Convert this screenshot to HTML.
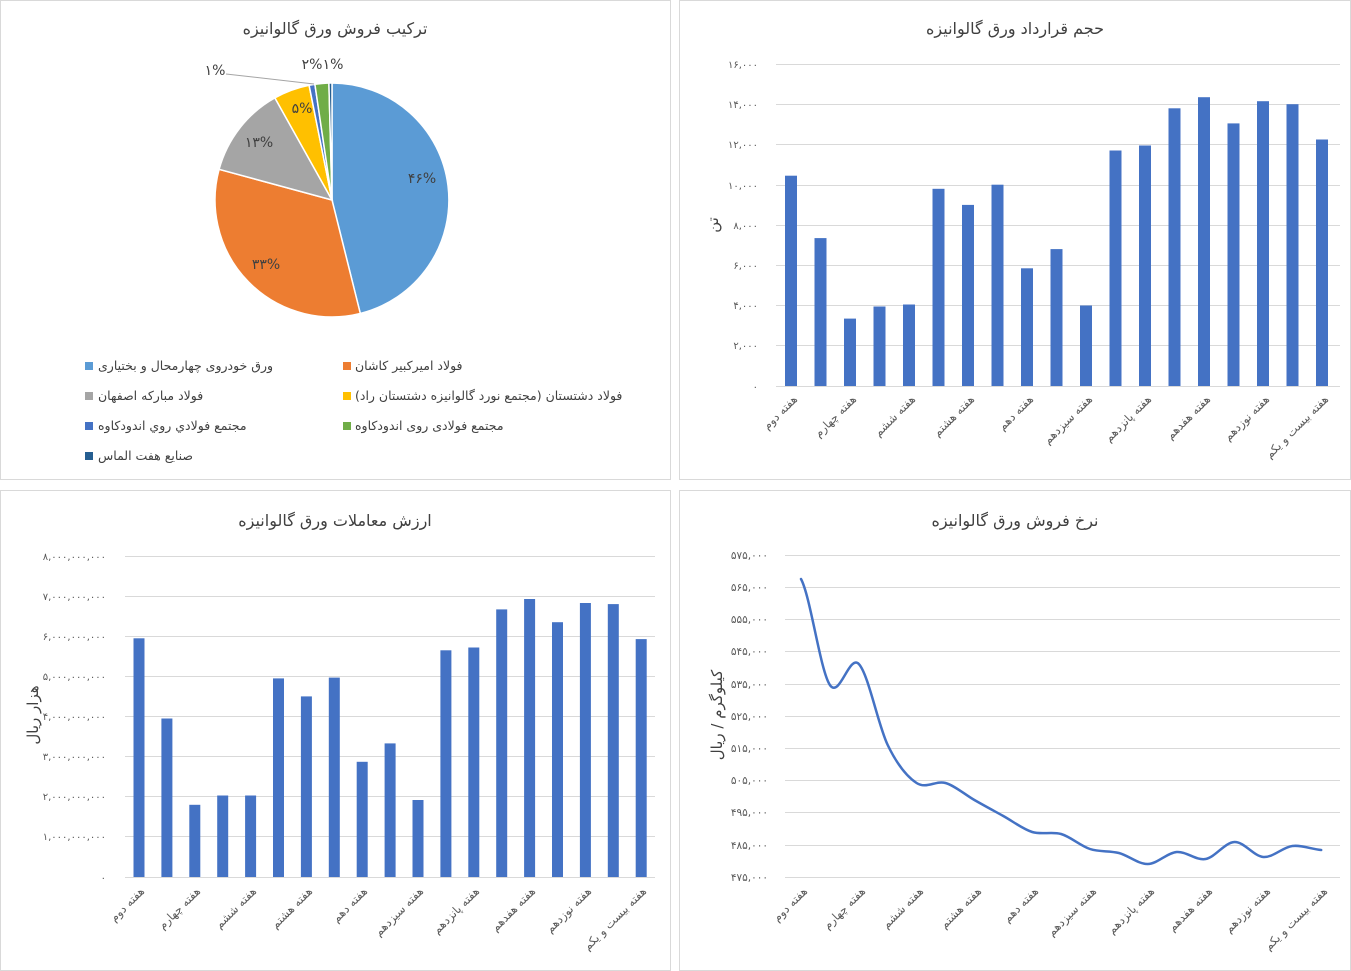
<!DOCTYPE html>
<html><head><meta charset="utf-8">
<style>
html,body{margin:0;padding:0;background:#fff;}
body{width:1351px;height:971px;position:relative;overflow:hidden;font-family:"DejaVu Sans","Liberation Sans",sans-serif;}
svg{position:absolute;left:0;top:0;}
.lg{position:absolute;font-size:12.5px;color:#404040;white-space:nowrap;direction:ltr;line-height:14px;}
.sq{position:absolute;width:8px;height:8px;}
</style></head><body>
<svg width="1351" height="971" xmlns="http://www.w3.org/2000/svg" font-family="DejaVu Sans, Liberation Sans, sans-serif">
<rect x="0.5" y="0.5" width="670" height="479" fill="#fff" stroke="#d9d9d9"/>
<rect x="679.5" y="0.5" width="671" height="479" fill="#fff" stroke="#d9d9d9"/>
<rect x="0.5" y="490.5" width="670" height="480" fill="#fff" stroke="#d9d9d9"/>
<rect x="679.5" y="490.5" width="671" height="480" fill="#fff" stroke="#d9d9d9"/>

<g font-size="16" fill="#404040" text-anchor="middle">
<text x="335" y="34">ترکیب فروش ورق گالوانیزه</text>
<text x="1015" y="34">حجم قرارداد ورق گالوانیزه</text>
<text x="335" y="526">ارزش معاملات ورق گالوانیزه</text>
<text x="1015" y="526">نرخ فروش ورق گالوانیزه</text>
</g>

<!-- PIE -->
<g stroke="#fff" stroke-width="1.5">
<path d="M332,200 L332,83 A117,117 0 0 1 360.3,313.5 Z" fill="#5b9bd5"/>
<path d="M332,200 L360.3,313.5 A117,117 0 0 1 219.1,169.3 Z" fill="#ed7d31"/>
<path d="M332,200 L219.1,169.3 A117,117 0 0 1 274.9,97.9 Z" fill="#a5a5a5"/>
<path d="M332,200 L274.9,97.9 A117,117 0 0 1 309.1,85.3 Z" fill="#ffc000"/>
<path d="M332,200 L309.1,85.3 A117,117 0 0 1 314.9,84.3 Z" fill="#4472c4"/>
<path d="M332,200 L314.9,84.3 A117,117 0 0 1 328.9,83.0 Z" fill="#70ad47"/>
<path d="M332,200 L328.9,83.0 A117,117 0 0 1 332,83 Z" fill="#255e91"/>
</g>
<line x1="226" y1="74" x2="314" y2="84" stroke="#a5a5a5" stroke-width="1"/>
<g font-size="14" fill="#404040" text-anchor="middle">
<text x="422" y="183">۴۶%</text>
<text x="266" y="269">۳۳%</text>
<text x="259" y="147">۱۳%</text>
<text x="302" y="113">۵%</text>
<text x="215" y="75">۱%</text>
<text x="312" y="69">۲%</text>
<text x="333" y="69">۱%</text>
</g>

<!-- TOP RIGHT BAR -->
<g stroke="#d9d9d9" stroke-width="1">
<line x1="776" y1="64.5" x2="1340" y2="64.5"/>
<line x1="776" y1="104.5" x2="1340" y2="104.5"/>
<line x1="776" y1="144.5" x2="1340" y2="144.5"/>
<line x1="776" y1="185.5" x2="1340" y2="185.5"/>
<line x1="776" y1="225.5" x2="1340" y2="225.5"/>
<line x1="776" y1="265.5" x2="1340" y2="265.5"/>
<line x1="776" y1="305.5" x2="1340" y2="305.5"/>
<line x1="776" y1="345.5" x2="1340" y2="345.5"/>
<line x1="776" y1="386.5" x2="1340" y2="386.5"/>
</g>
<g font-size="10" fill="#595959" text-anchor="end">
<text x="758" y="68">۱۶,۰۰۰</text>
<text x="758" y="108">۱۴,۰۰۰</text>
<text x="758" y="148">۱۲,۰۰۰</text>
<text x="758" y="189">۱۰,۰۰۰</text>
<text x="758" y="229">۸,۰۰۰</text>
<text x="758" y="269">۶,۰۰۰</text>
<text x="758" y="309">۴,۰۰۰</text>
<text x="758" y="349">۲,۰۰۰</text>
<text x="758" y="390">۰</text>
</g>
<text x="0" y="0" font-size="15" fill="#404040" text-anchor="middle" transform="translate(718,225) rotate(-90)">تن</text>
<g fill="#4472c4">
<rect x="785" y="175.7" width="12" height="210.3"/>
<rect x="814.5" y="238.1" width="12" height="147.9"/>
<rect x="844" y="318.6" width="12" height="67.4"/>
<rect x="873.5" y="306.5" width="12" height="79.5"/>
<rect x="903" y="304.5" width="12" height="81.5"/>
<rect x="932.5" y="188.8" width="12" height="197.2"/>
<rect x="962" y="204.9" width="12" height="181.1"/>
<rect x="991.5" y="184.7" width="12" height="201.3"/>
<rect x="1021" y="268.3" width="12" height="117.7"/>
<rect x="1050.5" y="249.1" width="12" height="136.9"/>
<rect x="1080" y="305.5" width="12" height="80.5"/>
<rect x="1109.5" y="150.5" width="12" height="235.5"/>
<rect x="1139" y="145.5" width="12" height="240.5"/>
<rect x="1168.5" y="108.3" width="12" height="277.7"/>
<rect x="1198" y="97.2" width="12" height="288.8"/>
<rect x="1227.5" y="123.4" width="12" height="262.6"/>
<rect x="1257" y="101.2" width="12" height="284.8"/>
<rect x="1286.5" y="104.2" width="12" height="281.8"/>
<rect x="1316" y="139.5" width="12" height="246.5"/>
</g>
<g font-size="11.5" fill="#595959" text-anchor="end">
<text transform="translate(798,400) rotate(-45)">هفته دوم</text>
<text transform="translate(857,400) rotate(-45)">هفته چهارم</text>
<text transform="translate(916,400) rotate(-45)">هفته ششم</text>
<text transform="translate(975,400) rotate(-45)">هفته هشتم</text>
<text transform="translate(1034,400) rotate(-45)">هفته دهم</text>
<text transform="translate(1093,400) rotate(-45)">هفته سیزدهم</text>
<text transform="translate(1152,400) rotate(-45)">هفته پانزدهم</text>
<text transform="translate(1211,400) rotate(-45)">هفته هفدهم</text>
<text transform="translate(1270,400) rotate(-45)">هفته نوزدهم</text>
<text transform="translate(1329,400) rotate(-45)">هفته بیست و یکم</text>
</g>

<!-- BOTTOM LEFT BAR -->
<g stroke="#d9d9d9" stroke-width="1">
<line x1="125" y1="556.5" x2="655" y2="556.5"/>
<line x1="125" y1="596.5" x2="655" y2="596.5"/>
<line x1="125" y1="636.5" x2="655" y2="636.5"/>
<line x1="125" y1="676.5" x2="655" y2="676.5"/>
<line x1="125" y1="716.5" x2="655" y2="716.5"/>
<line x1="125" y1="756.5" x2="655" y2="756.5"/>
<line x1="125" y1="796.5" x2="655" y2="796.5"/>
<line x1="125" y1="836.5" x2="655" y2="836.5"/>
<line x1="125" y1="877.5" x2="655" y2="877.5"/>
</g>
<g font-size="10" fill="#595959" text-anchor="end">
<text x="106" y="560">۸,۰۰۰,۰۰۰,۰۰۰</text>
<text x="106" y="600">۷,۰۰۰,۰۰۰,۰۰۰</text>
<text x="106" y="640">۶,۰۰۰,۰۰۰,۰۰۰</text>
<text x="106" y="680">۵,۰۰۰,۰۰۰,۰۰۰</text>
<text x="106" y="720">۴,۰۰۰,۰۰۰,۰۰۰</text>
<text x="106" y="760">۳,۰۰۰,۰۰۰,۰۰۰</text>
<text x="106" y="800">۲,۰۰۰,۰۰۰,۰۰۰</text>
<text x="106" y="840">۱,۰۰۰,۰۰۰,۰۰۰</text>
<text x="106" y="881">۰</text>
</g>
<text x="0" y="0" font-size="15" fill="#404040" text-anchor="middle" transform="translate(38,715) rotate(-90)">هزار ریال</text>
<g fill="#4472c4">
<rect x="133.5" y="638.3" width="11" height="238.7"/>
<rect x="161.4" y="718.5" width="11" height="158.5"/>
<rect x="189.3" y="804.8" width="11" height="72.2"/>
<rect x="217.2" y="795.5" width="11" height="81.5"/>
<rect x="245.1" y="795.5" width="11" height="81.5"/>
<rect x="273" y="678.4" width="11" height="198.6"/>
<rect x="300.9" y="696.4" width="11" height="180.6"/>
<rect x="328.8" y="677.6" width="11" height="199.4"/>
<rect x="356.7" y="761.8" width="11" height="115.2"/>
<rect x="384.6" y="743.4" width="11" height="133.6"/>
<rect x="412.5" y="800" width="11" height="77"/>
<rect x="440.4" y="650.3" width="11" height="226.7"/>
<rect x="468.3" y="647.5" width="11" height="229.5"/>
<rect x="496.2" y="609.4" width="11" height="267.6"/>
<rect x="524.1" y="599" width="11" height="278"/>
<rect x="552" y="622.2" width="11" height="254.8"/>
<rect x="579.9" y="603" width="11" height="274"/>
<rect x="607.8" y="604.1" width="11" height="272.9"/>
<rect x="635.7" y="639.1" width="11" height="237.9"/>
</g>
<g font-size="11.5" fill="#595959" text-anchor="end">
<text transform="translate(145,892) rotate(-45)">هفته دوم</text>
<text transform="translate(201,892) rotate(-45)">هفته چهارم</text>
<text transform="translate(257,892) rotate(-45)">هفته ششم</text>
<text transform="translate(313,892) rotate(-45)">هفته هشتم</text>
<text transform="translate(368,892) rotate(-45)">هفته دهم</text>
<text transform="translate(424,892) rotate(-45)">هفته سیزدهم</text>
<text transform="translate(480,892) rotate(-45)">هفته پانزدهم</text>
<text transform="translate(536,892) rotate(-45)">هفته هفدهم</text>
<text transform="translate(592,892) rotate(-45)">هفته نوزدهم</text>
<text transform="translate(647,892) rotate(-45)">هفته بیست و یکم</text>
</g>

<!-- BOTTOM RIGHT LINE -->
<g stroke="#d9d9d9" stroke-width="1">
<line x1="785" y1="555.5" x2="1340" y2="555.5"/>
<line x1="785" y1="587.5" x2="1340" y2="587.5"/>
<line x1="785" y1="619.5" x2="1340" y2="619.5"/>
<line x1="785" y1="651.5" x2="1340" y2="651.5"/>
<line x1="785" y1="684.5" x2="1340" y2="684.5"/>
<line x1="785" y1="716.5" x2="1340" y2="716.5"/>
<line x1="785" y1="748.5" x2="1340" y2="748.5"/>
<line x1="785" y1="780.5" x2="1340" y2="780.5"/>
<line x1="785" y1="812.5" x2="1340" y2="812.5"/>
<line x1="785" y1="845.5" x2="1340" y2="845.5"/>
<line x1="785" y1="877.5" x2="1340" y2="877.5"/>
</g>
<g font-size="10.5" fill="#595959" text-anchor="end">
<text x="768" y="559">۵۷۵,۰۰۰</text>
<text x="768" y="591">۵۶۵,۰۰۰</text>
<text x="768" y="623">۵۵۵,۰۰۰</text>
<text x="768" y="655">۵۴۵,۰۰۰</text>
<text x="768" y="688">۵۳۵,۰۰۰</text>
<text x="768" y="720">۵۲۵,۰۰۰</text>
<text x="768" y="752">۵۱۵,۰۰۰</text>
<text x="768" y="784">۵۰۵,۰۰۰</text>
<text x="768" y="816">۴۹۵,۰۰۰</text>
<text x="768" y="849">۴۸۵,۰۰۰</text>
<text x="768" y="881">۴۷۵,۰۰۰</text>
</g>
<text x="0" y="0" font-size="15" fill="#404040" text-anchor="middle" transform="translate(722,715) rotate(-90)">کیلوگرم / ریال</text>
<path fill="none" stroke="#4472c4" stroke-width="2.5" stroke-linecap="round" d="M801,579 C810.6,596.7 820.3,670.8 829.9,685 C839.5,699.2 849.2,654 858.8,664 C868.4,674 878.1,725.2 887.7,745 C897.3,764.8 907,776.7 916.6,783 C926.2,789.3 935.9,780.2 945.5,783 C955.1,785.8 964.8,794.5 974.4,800 C984,805.5 993.7,810.7 1003.3,816 C1012.9,821.3 1022.6,829 1032.2,832 C1041.8,835 1051.5,831.2 1061.1,834 C1070.7,836.8 1080.4,845.8 1090,849 C1099.6,852.2 1109.3,850.5 1118.9,853 C1128.5,855.5 1138.2,864.2 1147.8,864 C1157.4,863.8 1167.1,852.8 1176.7,852 C1186.3,851.2 1196,860.7 1205.6,859 C1215.2,857.3 1224.9,842.3 1234.5,842 C1244.1,841.7 1253.8,856.3 1263.4,857 C1273,857.7 1282.7,847.2 1292.3,846 C1301.9,844.8 1311.6,849.3 1321.2,850"/>
<g font-size="11.5" fill="#595959" text-anchor="end">
<text transform="translate(808,892) rotate(-45)">هفته دوم</text>
<text transform="translate(866,892) rotate(-45)">هفته چهارم</text>
<text transform="translate(924,892) rotate(-45)">هفته ششم</text>
<text transform="translate(982,892) rotate(-45)">هفته هشتم</text>
<text transform="translate(1039,892) rotate(-45)">هفته دهم</text>
<text transform="translate(1097,892) rotate(-45)">هفته سیزدهم</text>
<text transform="translate(1155,892) rotate(-45)">هفته پانزدهم</text>
<text transform="translate(1213,892) rotate(-45)">هفته هفدهم</text>
<text transform="translate(1271,892) rotate(-45)">هفته نوزدهم</text>
<text transform="translate(1328,892) rotate(-45)">هفته بیست و یکم</text>
</g>
</svg>

<!-- Pie legend -->
<div class="sq" style="left:85px;top:362px;background:#5b9bd5"></div>
<div class="lg" style="left:98px;top:359px;"><span dir="rtl">ورق خودروی چهارمحال و بختیاری</span></div>
<div class="sq" style="left:343px;top:362px;background:#ed7d31"></div>
<div class="lg" style="left:355px;top:359px;"><span dir="rtl">فولاد امیرکبیر کاشان</span></div>
<div class="sq" style="left:85px;top:392px;background:#a5a5a5"></div>
<div class="lg" style="left:98px;top:389px;"><span dir="rtl">فولاد مبارکه اصفهان</span></div>
<div class="sq" style="left:343px;top:392px;background:#ffc000"></div>
<div class="lg" style="left:355px;top:389px;"><span dir="rtl">فولاد دشتستان (مجتمع نورد گالوانیزه دشتستان راد)</span></div>
<div class="sq" style="left:85px;top:422px;background:#4472c4"></div>
<div class="lg" style="left:98px;top:419px;"><span dir="rtl">مجتمع فولادي روي اندودكاوه</span></div>
<div class="sq" style="left:343px;top:422px;background:#70ad47"></div>
<div class="lg" style="left:355px;top:419px;"><span dir="rtl">مجتمع فولادی روی اندودکاوه</span></div>
<div class="sq" style="left:85px;top:452px;background:#255e91"></div>
<div class="lg" style="left:98px;top:449px;"><span dir="rtl">صنایع هفت الماس</span></div>
</body></html>
